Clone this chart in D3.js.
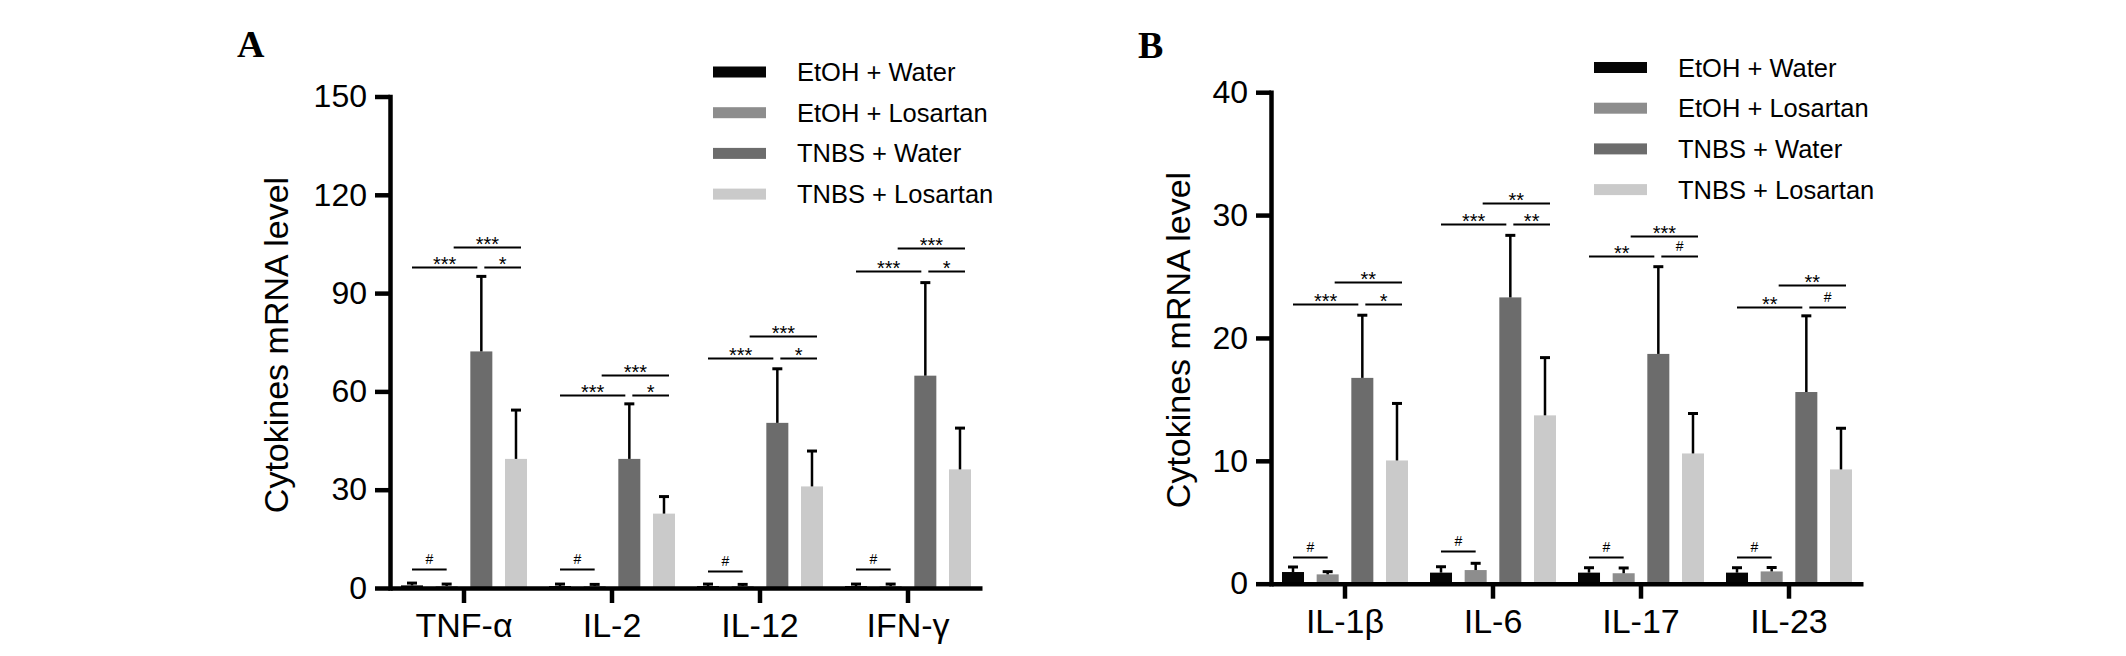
<!DOCTYPE html>
<html>
<head>
<meta charset="utf-8">
<script src="https://cdn.jsdelivr.net/npm/d3@7"></script>
<style>
  html, body { margin: 0; padding: 0; background: #ffffff; }
  svg { display: block; }
  text { font-family: "Liberation Sans", Arial, Helvetica, sans-serif; fill: #000; }
  text.panel-letter { font-family: "Liberation Serif", "Times New Roman", serif; font-weight: bold; }
</style>
</head>
<body>
<svg id="chart" width="2126" height="656"></svg>
<script>
// ---------------- data ----------------
const seriesNames = ["EtOH + Water", "EtOH + Losartan", "TNBS + Water", "TNBS + Losartan"];
const seriesColors = ["#050505", "#8d8d8d", "#6c6c6c", "#cacaca"];

// Panel A
const categoriesA = ["TNF-α", "IL-2", "IL-12", "IFN-γ"];
const ticksA = [0, 30, 60, 90, 120, 150];
const etohWaterA = [0.8, 0.6, 0.6, 0.6];
const etohWaterTopA = [1.5, 1.2, 1.2, 1.2];
const etohLosA = [0.6, 0.6, 0.6, 0.6];
const etohLosTopA = [1.2, 1.1, 1.1, 1.2];
const tnbsWaterA = [72.2, 39.4, 50.4, 64.8];
const tnbsWaterTopA = [95.1, 56.2, 66.9, 93.2];
const tnbsLosA = [39.4, 22.7, 31.0, 36.2];
const tnbsLosTopA = [54.3, 27.9, 41.8, 48.8];
const sigHashA = [5.8, 5.8, 5.2, 5.8];
const sigLowA = [97.9, 58.9, 70.1, 96.7];
const sigUpA = [104.2, 65.0, 76.8, 103.9];
const labLowLeftA = ["***", "***", "***", "***"];
const labLowRightA = ["*", "*", "*", "*"];
const labUpA = ["***", "***", "***", "***"];

// Panel B
const categoriesB = ["IL-1β", "IL-6", "IL-17", "IL-23"];
const ticksB = [0, 10, 20, 30, 40];
const etohWaterB = [0.95, 0.9, 0.9, 0.9];
const etohWaterTopB = [1.36, 1.38, 1.3, 1.3];
const etohLosB = [0.76, 1.11, 0.85, 1.0];
const etohLosTopB = [0.98, 1.66, 1.28, 1.32];
const tnbsWaterB = [16.75, 23.3, 18.7, 15.6];
const tnbsWaterTopB = [21.85, 28.35, 25.8, 21.8];
const tnbsLosB = [10.03, 13.7, 10.6, 9.3];
const tnbsLosTopB = [14.67, 18.4, 13.85, 12.65];
const sigHashB = [2.17, 2.7, 2.14, 2.2];
const sigLowB = [22.8, 29.3, 26.65, 22.5];
const sigUpB = [24.55, 31.0, 28.3, 24.3];
const labLowLeftB = ["***", "***", "**", "**"];
const labLowRightB = ["*", "**", "#", "#"];
const labUpB = ["**", "**", "***", "**"];

// ---------------- drawing ----------------
const svg = d3.select("#chart");

function drawPanel(cfg) {
  const g = svg.append("g");
  const x = d3.scaleBand().domain(cfg.categories).range([cfg.x0, cfg.x0 + 592]).padding(0);
  const y = d3.scaleLinear().domain([0, cfg.ymax]).range([cfg.y0, cfg.y0 - 491.5]);
  const sub = d3.scaleBand().domain(d3.range(4)).range([-63, 63]).paddingInner(0.365).paddingOuter(0);
  const bw = sub.bandwidth();
  const center = (c, i) => x(c) + x.bandwidth() / 2 + sub(i) + bw / 2;

  const means = [cfg.s0, cfg.s1, cfg.s2, cfg.s3];
  const tops = [cfg.t0, cfg.t1, cfg.t2, cfg.t3];

  // bars
  means.forEach((arr, si) => {
    g.selectAll(null).data(cfg.categories).enter().append("rect")
      .attr("x", (c) => center(c, si) - bw / 2)
      .attr("width", bw)
      .attr("y", (c, ci) => y(arr[ci]))
      .attr("height", (c, ci) => y(0) - y(arr[ci]))
      .attr("fill", seriesColors[si]);
  });

  // error bars (upper only)
  tops.forEach((arr, si) => {
    const eg = g.append("g");
    eg.selectAll(null).data(cfg.categories).enter().append("line")
      .attr("x1", (c) => center(c, si)).attr("x2", (c) => center(c, si))
      .attr("y1", (c, ci) => y(means[si][ci])).attr("y2", (c, ci) => y(arr[ci]))
      .attr("stroke", "#000").attr("stroke-width", 2.5);
    eg.selectAll(null).data(cfg.categories).enter().append("line")
      .attr("x1", (c) => center(c, si) - 5).attr("x2", (c) => center(c, si) + 5)
      .attr("y1", (c, ci) => y(arr[ci])).attr("y2", (c, ci) => y(arr[ci]))
      .attr("stroke", "#000").attr("stroke-width", 3);
  });

  // axes
  const yAxis = d3.axisLeft(y).tickValues(cfg.ticks).tickSize(15).tickSizeOuter(0).tickPadding(8);
  const ya = g.append("g").attr("transform", `translate(${cfg.x0},0)`).call(yAxis);
  ya.select(".domain").attr("stroke-width", 4.5).attr("stroke-linecap", "square");
  ya.selectAll(".tick line").attr("stroke-width", 4.5);
  ya.selectAll(".tick text").style("font-size", "32px");

  const xAxis = d3.axisBottom(x).tickSize(15).tickSizeOuter(0).tickPadding(10);
  const xa = g.append("g").attr("transform", `translate(0,${cfg.y0})`).call(xAxis);
  xa.select(".domain").attr("stroke-width", 4.5);
  xa.selectAll(".tick line").attr("stroke-width", 4.5);
  xa.selectAll(".tick text").style("font-size", "34px");

  // y title
  g.append("text")
    .attr("transform", `translate(${cfg.titleX},${cfg.titleY}) rotate(-90)`)
    .attr("text-anchor", "middle")
    .style("font-size", "34px")
    .text("Cytokines mRNA level");

  // panel letter
  g.append("text")
    .attr("class", "panel-letter")
    .attr("x", cfg.letterX).attr("y", cfg.letterY)
    .style("font-size", "38px")
    .text(cfg.letter);

  // significance brackets
  function sigLine(x1, x2, val, lab) {
    const yy = Math.round(y(val)) + 0.5;
    g.append("line").attr("x1", x1).attr("x2", x2).attr("y1", yy).attr("y2", yy)
      .attr("stroke", "#000").attr("stroke-width", 2);
    const isHash = lab === "#";
    g.append("text")
      .attr("x", (x1 + x2) / 2)
      .attr("y", isHash ? yy - 5.5 : yy + 3)
      .attr("text-anchor", "middle")
      .style("font-size", isHash ? "14px" : "20px")
      .text(lab);
  }
  cfg.categories.forEach((c, ci) => {
    sigLine(center(c, 0), center(c, 1), cfg.sigHash[ci], "#");
    sigLine(center(c, 0), center(c, 2) - 4, cfg.sigLow[ci], cfg.labLL[ci]);
    sigLine(center(c, 2) + 3, center(c, 3) + 5, cfg.sigLow[ci], cfg.labLR[ci]);
    sigLine(center(c, 1) + 7, center(c, 3) + 5, cfg.sigUp[ci], cfg.labUp[ci]);
  });

  // legend
  const lg = g.append("g");
  seriesNames.forEach((name, i) => {
    const ry = cfg.legendY + i * 40.7;
    lg.append("rect")
      .attr("x", cfg.x0 + 323).attr("y", ry - 5.5)
      .attr("width", 53).attr("height", 11)
      .attr("fill", seriesColors[i]);
    lg.append("text")
      .attr("x", cfg.x0 + 407).attr("y", ry + 9)
      .style("font-size", "25.5px")
      .text(name);
  });
}

drawPanel({
  categories: categoriesA, ticks: ticksA, ymax: 150,
  x0: 390, y0: 588,
  s0: etohWaterA, s1: etohLosA, s2: tnbsWaterA, s3: tnbsLosA,
  t0: etohWaterTopA, t1: etohLosTopA, t2: tnbsWaterTopA, t3: tnbsLosTopA,
  sigHash: sigHashA, sigLow: sigLowA, sigUp: sigUpA,
  labLL: labLowLeftA, labLR: labLowRightA, labUp: labUpA,
  titleX: 288, titleY: 345, letter: "A", letterX: 237, letterY: 57,
  legendY: 72
});

drawPanel({
  categories: categoriesB, ticks: ticksB, ymax: 40,
  x0: 1271, y0: 583.7,
  s0: etohWaterB, s1: etohLosB, s2: tnbsWaterB, s3: tnbsLosB,
  t0: etohWaterTopB, t1: etohLosTopB, t2: tnbsWaterTopB, t3: tnbsLosTopB,
  sigHash: sigHashB, sigLow: sigLowB, sigUp: sigUpB,
  labLL: labLowLeftB, labLR: labLowRightB, labUp: labUpB,
  titleX: 1190, titleY: 340, letter: "B", letterX: 1138, letterY: 58,
  legendY: 67.5
});
</script>
</body>
</html>
